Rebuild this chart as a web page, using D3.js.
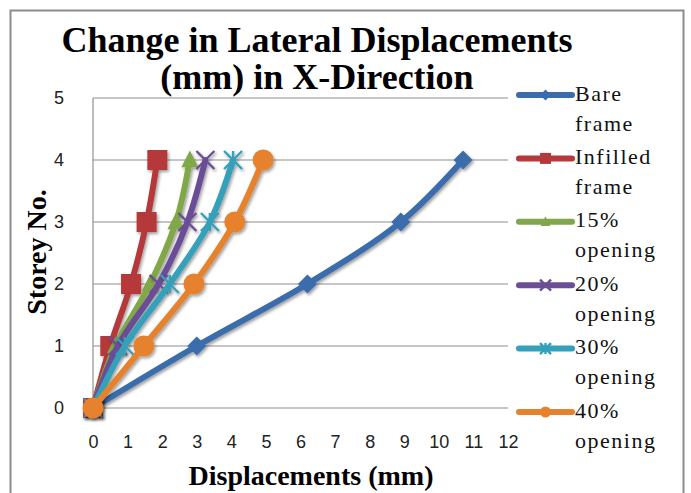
<!DOCTYPE html>
<html>
<head>
<meta charset="utf-8">
<script src="https://cdn.jsdelivr.net/npm/d3@7"></script>
<style>
  html, body { margin: 0; padding: 0; background: #fff; }
  svg { display: block; }
</style>
</head>
<body>
<svg id="chart" width="691" height="493"></svg>
<script>
// Storey-wise lateral displacement (mm) in X-direction
const storeys = [0, 1, 2, 3, 4];
const bareFrame     = [0, 3.0, 6.2, 8.9, 10.7];
const infilledFrame = [0, 0.5, 1.1, 1.55, 1.86];
const opening15     = [0, 0.65, 1.65, 2.4, 2.8];
const opening20     = [0, 0.72, 1.9, 2.73, 3.25];
const opening30     = [0, 0.92, 2.22, 3.38, 4.05];
const opening40     = [0, 1.47, 2.92, 4.1, 4.92];

const seriesNames  = ["Bare frame", "Infilled frame", "15% opening", "20% opening", "30% opening", "40% opening"];
const legendLines  = [["Bare", "frame"], ["Infilled", "frame"], ["15%", "opening"], ["20%", "opening"], ["30%", "opening"], ["40%", "opening"]];
const seriesValues = [bareFrame, infilledFrame, opening15, opening20, opening30, opening40];
const seriesColors = ["#3b6dac", "#b5393a", "#80a84a", "#6b4e96", "#35a0ba", "#e6812e"];
const seriesMarkers = ["diamond", "square", "triangle", "x", "star", "circle"];

const xTicks = d3.range(0, 13);
const yTicks = d3.range(0, 6);

const svg = d3.select("#chart");
const serif = "'Liberation Serif', 'Times New Roman', serif";
const sans = "'Liberation Sans', Arial, sans-serif";

// Outer chart frame
svg.append("rect")
  .attr("x", 10.5).attr("y", 10.5).attr("width", 673).attr("height", 500)
  .attr("fill", "#fff").attr("stroke", "#8c8c8c").attr("stroke-width", 2);

// Soft drop shadow used on lines and markers
const defs = svg.append("defs");
const f = defs.append("filter").attr("id", "shadow")
  .attr("x", "-50%").attr("y", "-50%").attr("width", "200%").attr("height", "200%");
f.append("feDropShadow").attr("dx", 1.5).attr("dy", 2).attr("stdDeviation", 1.6)
  .attr("flood-color", "#000").attr("flood-opacity", 0.38);

const x = d3.scaleLinear().domain([0, 12]).range([93, 508]);
const y = d3.scaleLinear().domain([0, 5]).range([408, 98]);

// Horizontal gridlines
svg.append("g").selectAll("line").data(yTicks).join("line")
  .attr("x1", x(0)).attr("x2", x(12))
  .attr("y1", d => y(d)).attr("y2", d => y(d))
  .attr("stroke", "#b3b3b3").attr("stroke-width", 1.3);

// Vertical axis line
svg.append("line")
  .attr("x1", x(0)).attr("x2", x(0)).attr("y1", y(5)).attr("y2", y(0))
  .attr("stroke", "#999").attr("stroke-width", 1.3);

// Axes via d3 axis generators (labels only)
const xAxis = svg.append("g")
  .attr("transform", `translate(0,${y(0)})`)
  .call(d3.axisBottom(x).tickValues(xTicks).tickFormat(d3.format("d")).tickSize(0).tickPadding(27));
const yAxis = svg.append("g")
  .attr("transform", `translate(${x(0)},0)`)
  .call(d3.axisLeft(y).tickValues(yTicks).tickFormat(d3.format("d")).tickSize(0).tickPadding(29));
[xAxis, yAxis].forEach(g => {
  g.select(".domain").remove();
  g.selectAll("text").attr("font-family", sans).attr("font-size", 18).attr("fill", "#222");
});

// Axis titles
svg.append("text")
  .attr("x", 311).attr("y", 485).attr("text-anchor", "middle")
  .attr("font-family", serif).attr("font-weight", "bold").attr("font-size", 28)
  .text("Displacements (mm)");
svg.append("text")
  .attr("transform", "translate(46,252) rotate(-90)").attr("text-anchor", "middle")
  .attr("font-family", serif).attr("font-weight", "bold").attr("font-size", 28)
  .text("Storey No.");

// Chart title
const title = svg.append("text")
  .attr("text-anchor", "middle")
  .attr("font-family", serif).attr("font-weight", "bold").attr("font-size", 36);
title.append("tspan").attr("x", 317).attr("y", 52).text("Change in Lateral Displacements");
title.append("tspan").attr("x", 317).attr("y", 89).text("(mm) in X-Direction");

// Marker painter
function drawMarker(g, type, color, s) {
  const h = s / 2;
  switch (type) {
    case "diamond":
      g.append("path").attr("d", `M0,${-h}L${h},0L0,${h}L${-h},0Z`).attr("fill", color);
      break;
    case "square":
      g.append("rect").attr("x", -h).attr("y", -h).attr("width", s).attr("height", s).attr("fill", color);
      break;
    case "triangle":
      g.append("path").attr("d", `M0,${-h}L${h * 0.9},${h * 0.75}L${-h * 0.9},${h * 0.75}Z`).attr("fill", color);
      break;
    case "x":
      g.append("path").attr("d", `M${-h},${-h}L${h},${h}M${-h},${h}L${h},${-h}`)
        .attr("stroke", color).attr("stroke-width", 2.4).attr("fill", "none");
      break;
    case "star":
      g.append("path").attr("d", `M${-h},${-h}L${h},${h}M${-h},${h}L${h},${-h}M0,${-h}L0,${h}`)
        .attr("stroke", color).attr("stroke-width", 2.4).attr("fill", "none");
      break;
    case "circle":
      g.append("circle").attr("r", h).attr("fill", color);
      break;
  }
}
const markerSizes = { diamond: 19, square: 20, triangle: 19, x: 18, star: 18, circle: 21 };

// Smoothed series lines with markers
const line = d3.line()
  .x(d => x(d[0])).y(d => y(d[1]))
  .curve(d3.curveCatmullRom.alpha(0.5));

const plot = svg.append("g");
seriesValues.forEach((vals, i) => {
  const pts = vals.map((v, k) => [v, storeys[k]]);
  const g = plot.append("g").attr("filter", "url(#shadow)");
  g.append("path").datum(pts)
    .attr("d", line).attr("fill", "none")
    .attr("stroke", seriesColors[i]).attr("stroke-width", 6)
    .attr("stroke-linejoin", "round").attr("stroke-linecap", "round");
  pts.forEach(p => {
    const m = g.append("g").attr("transform", `translate(${x(p[0])},${y(p[1])})`);
    drawMarker(m, seriesMarkers[i], seriesColors[i], markerSizes[seriesMarkers[i]]);
  });
});

// Legend
const legend = svg.append("g");
seriesNames.forEach((name, i) => {
  const ly = 95 + i * 63.4;
  const g = legend.append("g").attr("transform", `translate(0,${ly})`);
  g.append("line").attr("x1", 519).attr("x2", 572).attr("y1", 0).attr("y2", 0)
    .attr("stroke", seriesColors[i]).attr("stroke-width", 6).attr("stroke-linecap", "round");
  const m = g.append("g").attr("transform", "translate(545.5,0)");
  drawMarker(m, seriesMarkers[i], seriesColors[i], 11);
  const t = g.append("text").attr("font-family", serif).attr("font-size", 22)
    .attr("letter-spacing", 1.5).attr("fill", "#111");
  t.append("tspan").attr("x", 575).attr("y", 5.5).text(legendLines[i][0]);
  t.append("tspan").attr("x", 575).attr("y", 35.5).text(legendLines[i][1]);
});
</script>
</body>
</html>
